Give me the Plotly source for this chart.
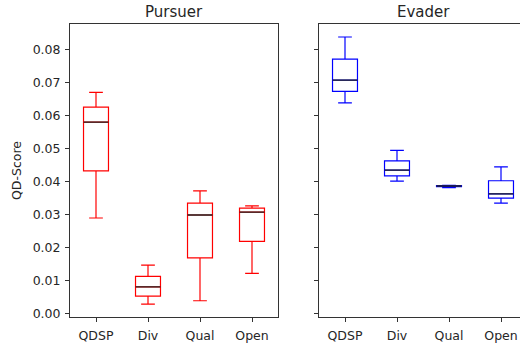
import plotly.graph_objects as go

# Methods compared in each role
categories = ["QDSP", "Div", "Qual", "Open"]

# Box statistics per method: lower whisker, Q1, median, Q3, upper whisker
pursuer_low = [0.0289, 0.0028, 0.0038, 0.0121]
pursuer_q1 = [0.0432, 0.0052, 0.0168, 0.0218]
pursuer_median = [0.0580, 0.0080, 0.0298, 0.0307]
pursuer_q3 = [0.0625, 0.0112, 0.0334, 0.0319]
pursuer_high = [0.0670, 0.0146, 0.0371, 0.0326]

evader_low = [0.0638, 0.0401, 0.0381, 0.0334]
evader_q1 = [0.0673, 0.0417, 0.0384, 0.0349]
evader_median = [0.0707, 0.0434, 0.0386, 0.0362]
evader_q3 = [0.0771, 0.0462, 0.0387, 0.0402]
evader_high = [0.0838, 0.0494, 0.0388, 0.0444]

positions = list(range(1, len(categories) + 1))
BOX_W = 0.48
FONT = "DejaVu Sans"
AXIS_COLOR = "#333333"
TEXT_COLOR = "#262626"

fig = go.Figure()


def add_group(low, q1, med, q3, high, color, xa, ya):
    fig.add_trace(go.Box(
        x=positions, lowerfence=low, q1=q1, median=med, q3=q3, upperfence=high,
        width=BOX_W, whiskerwidth=0.55, boxpoints=False,
        line=dict(color=color, width=1.2), fillcolor="rgba(255,255,255,0)",
        xaxis=xa, yaxis=ya, showlegend=False, hoverinfo="skip",
    ))
    # black median bars drawn over each box
    mx, my = [], []
    for p, m in zip(positions, med):
        mx += [p - BOX_W / 2, p + BOX_W / 2, None]
        my += [m, m, None]
    fig.add_trace(go.Scatter(
        x=mx, y=my, mode="lines", line=dict(color="#222222", width=1.3),
        xaxis=xa, yaxis=ya, showlegend=False, hoverinfo="skip",
    ))


add_group(pursuer_low, pursuer_q1, pursuer_median, pursuer_q3, pursuer_high, "#ff0000", "x", "y")
add_group(evader_low, evader_q1, evader_median, evader_q3, evader_high, "#0000ff", "x2", "y2")

y_range = [-0.0012, 0.0878]
y_ticks = [0.0, 0.01, 0.02, 0.03, 0.04, 0.05, 0.06, 0.07, 0.08]
px_per_unit = 52.0
x2_left = 319.0

common_x = dict(
    tickvals=positions, ticktext=categories, ticks="outside", ticklen=4,
    tickcolor=AXIS_COLOR, showline=True, linecolor=AXIS_COLOR, linewidth=1,
    mirror=True, showgrid=False, zeroline=False, ticklabelstandoff=3,
    tickfont=dict(family=FONT, size=12.5, color=TEXT_COLOR),
)
common_y = dict(
    range=y_range, tickvals=y_ticks, tickformat=".2f", ticks="outside", ticklen=4,
    tickcolor=AXIS_COLOR, showline=True, linecolor=AXIS_COLOR, linewidth=1,
    showgrid=False, zeroline=False, ticklabelstandoff=2,
    tickfont=dict(family=FONT, size=12.5, color=TEXT_COLOR),
)

fig.update_layout(
    width=520, height=347,
    margin=dict(l=0, r=0, t=0, b=0),
    paper_bgcolor="white", plot_bgcolor="white",
    xaxis=dict(common_x, domain=[70 / 520, 278 / 520], range=[0.5, 4.5], anchor="y"),
    xaxis2=dict(common_x, domain=[x2_left / 520, 1.0],
                range=[0.5, 0.5 + (520 - x2_left) / px_per_unit], anchor="y2"),
    yaxis=dict(common_y, domain=[1 - 320 / 347, 1 - 24 / 347], mirror=True, anchor="x",
               title=dict(text="QD-Score", font=dict(family=FONT, size=12.5, color=TEXT_COLOR),
                          standoff=8)),
    yaxis2=dict(common_y, domain=[1 - 320 / 347, 1 - 24 / 347], mirror=False,
                showticklabels=False, anchor="x2"),
    annotations=[
        dict(text="Pursuer", x=(70 + 278) / 2 / 520, y=1 - 12 / 347, xref="paper", yref="paper",
             xanchor="center", yanchor="middle",
             showarrow=False, font=dict(family=FONT, size=15, color=TEXT_COLOR)),
        dict(text="Evader", x=(x2_left + 104) / 520, y=1 - 12 / 347, xref="paper", yref="paper",
             xanchor="center", yanchor="middle",
             showarrow=False, font=dict(family=FONT, size=15, color=TEXT_COLOR)),
    ],
)

fig.write_html("out.html")
